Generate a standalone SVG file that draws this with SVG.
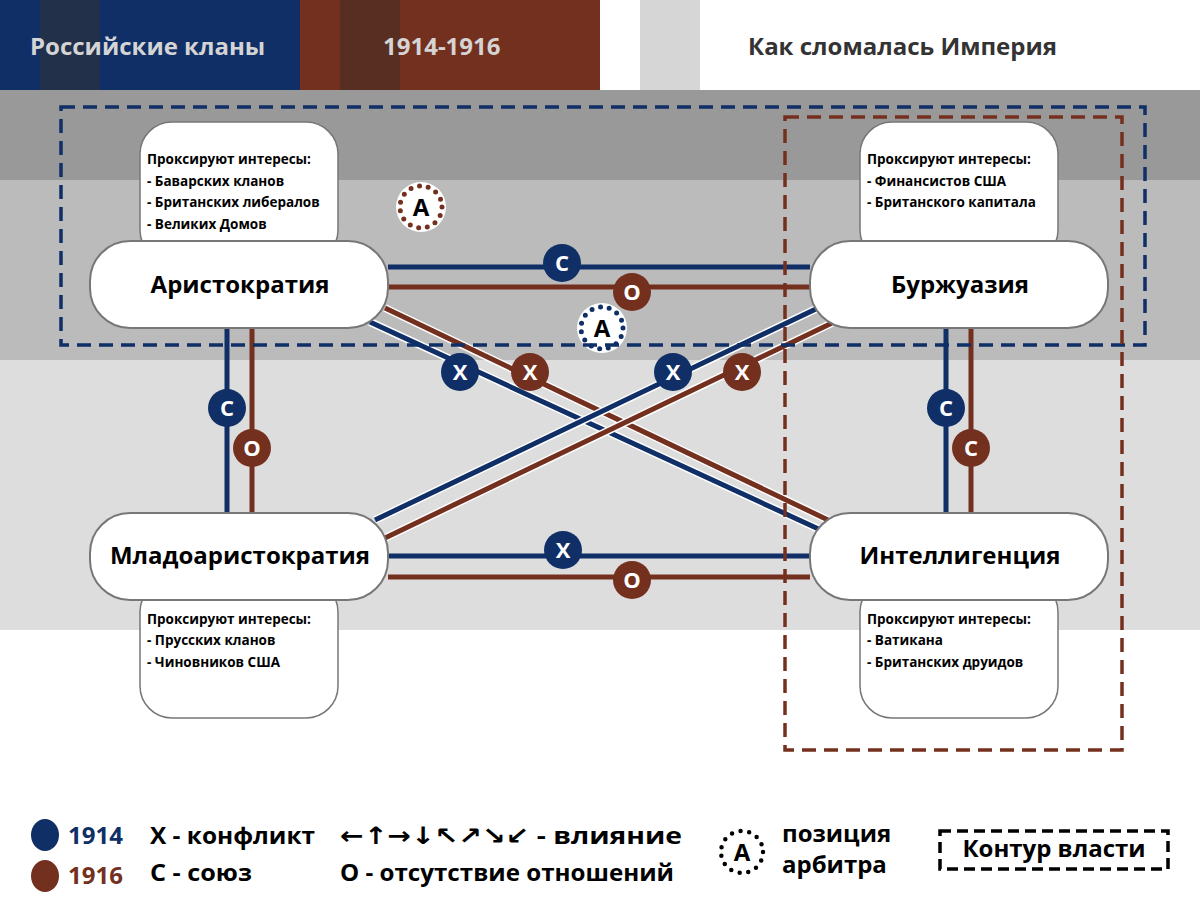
<svg xmlns="http://www.w3.org/2000/svg" width="1200" height="900" viewBox="0 0 1200 900">
<style>
text{font-family:"Open Sans","Noto Sans",sans-serif;font-weight:bold}
.pill{fill:#fff;stroke:#777;stroke-width:2}
.prox{fill:#fff;stroke:#777;stroke-width:1.5}
.nt{font-size:24px;text-anchor:middle;fill:#000}
.pt{font-size:13.5px;fill:#000}
.b{stroke:#0f2f66;stroke-width:5;fill:none}
.r{stroke:#74301e;stroke-width:5;fill:none}
.w{stroke:#fff;stroke-width:8;fill:none}
.cb{fill:#0f2f66}
.cr{fill:#74301e}
.ct{font-size:22px;fill:#fff;text-anchor:middle}
.lg{font-size:24px;fill:#000}
</style>
<rect x="0" y="0" width="1200" height="900" fill="#fff"/>
<rect x="0" y="90" width="1200" height="90" fill="#999"/>
<rect x="0" y="180" width="1200" height="180" fill="#bbb"/>
<rect x="0" y="360" width="1200" height="270" fill="#ddd"/>
<g id="header">
<rect x="0" y="0" width="300" height="90" fill="#0f2f66"/>
<rect x="40" y="0" width="60" height="90" fill="#22304a"/>
<rect x="300" y="0" width="300" height="90" fill="#74301e"/>
<rect x="340" y="0" width="60" height="90" fill="#582e22"/>
<rect x="640" y="0" width="60" height="90" fill="#d6d6d6"/>
<text x="30" y="55" font-size="24" fill="#d4d4d4">Российские кланы</text>
<text x="383" y="55" font-size="24" fill="#d4d4d4">1914-1916</text>
<text x="748" y="55" font-size="24" fill="#333">Как сломалась Империя</text>
</g>
<g id="proxies">
<rect class="prox" x="140" y="122" width="198" height="140" rx="32"/>
<rect class="prox" x="860" y="122" width="198" height="140" rx="32"/>
<rect class="prox" x="140" y="580" width="198" height="138" rx="32"/>
<rect class="prox" x="860" y="580" width="198" height="138" rx="32"/>
<text class="pt" x="147" y="164">Проксируют интересы:</text>
<text class="pt" x="147" y="186">- Баварских кланов</text>
<text class="pt" x="147" y="207">- Британских либералов</text>
<text class="pt" x="147" y="229">- Великих Домов</text>
<text class="pt" x="867" y="164">Проксируют интересы:</text>
<text class="pt" x="867" y="186">- Финансистов США</text>
<text class="pt" x="867" y="207">- Британского капитала</text>
<text class="pt" x="147" y="624">Проксируют интересы:</text>
<text class="pt" x="147" y="645">- Прусских кланов</text>
<text class="pt" x="147" y="667">- Чиновников США</text>
<text class="pt" x="867" y="624">Проксируют интересы:</text>
<text class="pt" x="867" y="645">- Ватикана</text>
<text class="pt" x="867" y="667">- Британских друидов</text>
</g>
<g id="connectors">
<line class="b" x1="388" y1="267" x2="810" y2="267"/>
<line class="r" x1="388" y1="287" x2="810" y2="287"/>
<line class="b" x1="227" y1="328" x2="227" y2="513"/>
<line class="r" x1="252" y1="328" x2="252" y2="513"/>
<line class="b" x1="946" y1="328" x2="946" y2="513"/>
<line class="r" x1="971" y1="328" x2="971" y2="513"/>
<line class="b" x1="388" y1="556" x2="810" y2="556"/>
<line class="r" x1="388" y1="577" x2="810" y2="577"/>
<line class="w" x1="370" y1="322" x2="825" y2="532"/>
<line class="b" x1="370" y1="322" x2="825" y2="532"/>
<line class="w" x1="385" y1="308" x2="828" y2="520"/>
<line class="r" x1="385" y1="308" x2="828" y2="520"/>
<line class="w" x1="818" y1="308" x2="375" y2="520"/>
<line class="b" x1="818" y1="308" x2="375" y2="520"/>
<line class="w" x1="832" y1="323" x2="385" y2="538"/>
<line class="r" x1="832" y1="323" x2="385" y2="538"/>
</g>
<g id="labels">
<circle class="cb" cx="562" cy="263" r="19"/><text class="ct" x="562" y="271">С</text>
<circle class="cr" cx="632" cy="292" r="19"/><text class="ct" x="632" y="300">О</text>
<circle class="cb" cx="227" cy="408" r="19"/><text class="ct" x="227" y="416">С</text>
<circle class="cr" cx="252" cy="448" r="19"/><text class="ct" x="252" y="456">О</text>
<circle class="cb" cx="946" cy="408" r="19"/><text class="ct" x="946" y="416">С</text>
<circle class="cr" cx="971" cy="448" r="19"/><text class="ct" x="971" y="456">С</text>
<circle class="cb" cx="563" cy="550" r="19"/><text class="ct" x="563" y="558">Х</text>
<circle class="cr" cx="632" cy="580" r="19"/><text class="ct" x="632" y="588">О</text>
<circle class="cb" cx="460" cy="372" r="19"/><text class="ct" x="460" y="380">Х</text>
<circle class="cr" cx="530" cy="372" r="19"/><text class="ct" x="530" y="380">Х</text>
<circle class="cb" cx="673" cy="372" r="19"/><text class="ct" x="673" y="380">Х</text>
<circle class="cr" cx="742" cy="372" r="19"/><text class="ct" x="742" y="380">Х</text>
</g>
<g id="arbiters">
<circle cx="421" cy="207" r="25" fill="#fff"/>
<circle cx="421" cy="207" r="21" fill="none" stroke="#74301e" stroke-width="5" stroke-linecap="round" stroke-dasharray="0 8.8"/>
<text x="421" y="216" font-size="24" text-anchor="middle">А</text>
<circle cx="602" cy="328" r="25" fill="#fff"/>
<circle cx="602" cy="328" r="21" fill="none" stroke="#0f2f66" stroke-width="5" stroke-linecap="round" stroke-dasharray="0 8.8"/>
<text x="602" y="337" font-size="24" text-anchor="middle">А</text>
</g>
<g id="aristocracy"><rect class="pill" x="90" y="241" width="298" height="87" rx="40"/><text class="nt" x="240" y="293">Аристократия</text></g>
<g id="bourgeoisie"><rect class="pill" x="810" y="241" width="298" height="87" rx="40"/><text class="nt" x="960" y="293">Буржуазия</text></g>
<g id="young"><rect class="pill" x="90" y="513" width="298" height="87" rx="40"/><text class="nt" x="240" y="564">Младоаристократия</text></g>
<g id="intel"><rect class="pill" x="810" y="513" width="298" height="87" rx="40"/><text class="nt" x="960" y="564">Интеллигенция</text></g>
<g id="contours">
<rect x="61" y="107" width="1084" height="238" fill="none" stroke="#0f2f66" stroke-width="3.5" stroke-dasharray="14 8"/>
<rect x="785" y="117" width="337" height="633" fill="none" stroke="#74301e" stroke-width="3.5" stroke-dasharray="14 8"/>
</g>
<g id="legend">
<ellipse cx="45" cy="835" rx="14" ry="16" fill="#0f2f66"/>
<ellipse cx="45" cy="876" rx="14" ry="16" fill="#74301e"/>
<text class="lg" x="68" y="844" style="fill:#0f2f66">1914</text>
<text class="lg" x="68" y="884" style="fill:#74301e">1916</text>
<text class="lg" x="150" y="844" textLength="165" lengthAdjust="spacingAndGlyphs">Х - конфликт</text>
<text class="lg" x="150" y="881" textLength="102" lengthAdjust="spacingAndGlyphs">С - союз</text>
<text class="lg" x="340" y="844" textLength="342" lengthAdjust="spacingAndGlyphs"><tspan font-family="DejaVu Sans">←↑→↓↖↗↘↙</tspan> - влияние</text>
<text class="lg" x="340" y="881" textLength="334" lengthAdjust="spacingAndGlyphs">О - отсутствие отношений</text>
<circle cx="742" cy="852" r="21" fill="none" stroke="#000" stroke-width="4.5" stroke-linecap="round" stroke-dasharray="0 8.8"/>
<text x="742" y="861" font-size="24" text-anchor="middle">А</text>
<text class="lg" x="782" y="842">позиция</text>
<text class="lg" x="782" y="873">арбитра</text>
<rect x="940" y="831" width="228" height="38" fill="none" stroke="#000" stroke-width="3.5" stroke-dasharray="11 6"/>
<text class="lg" x="1054" y="857" text-anchor="middle">Контур власти</text>
</g>
</svg>
